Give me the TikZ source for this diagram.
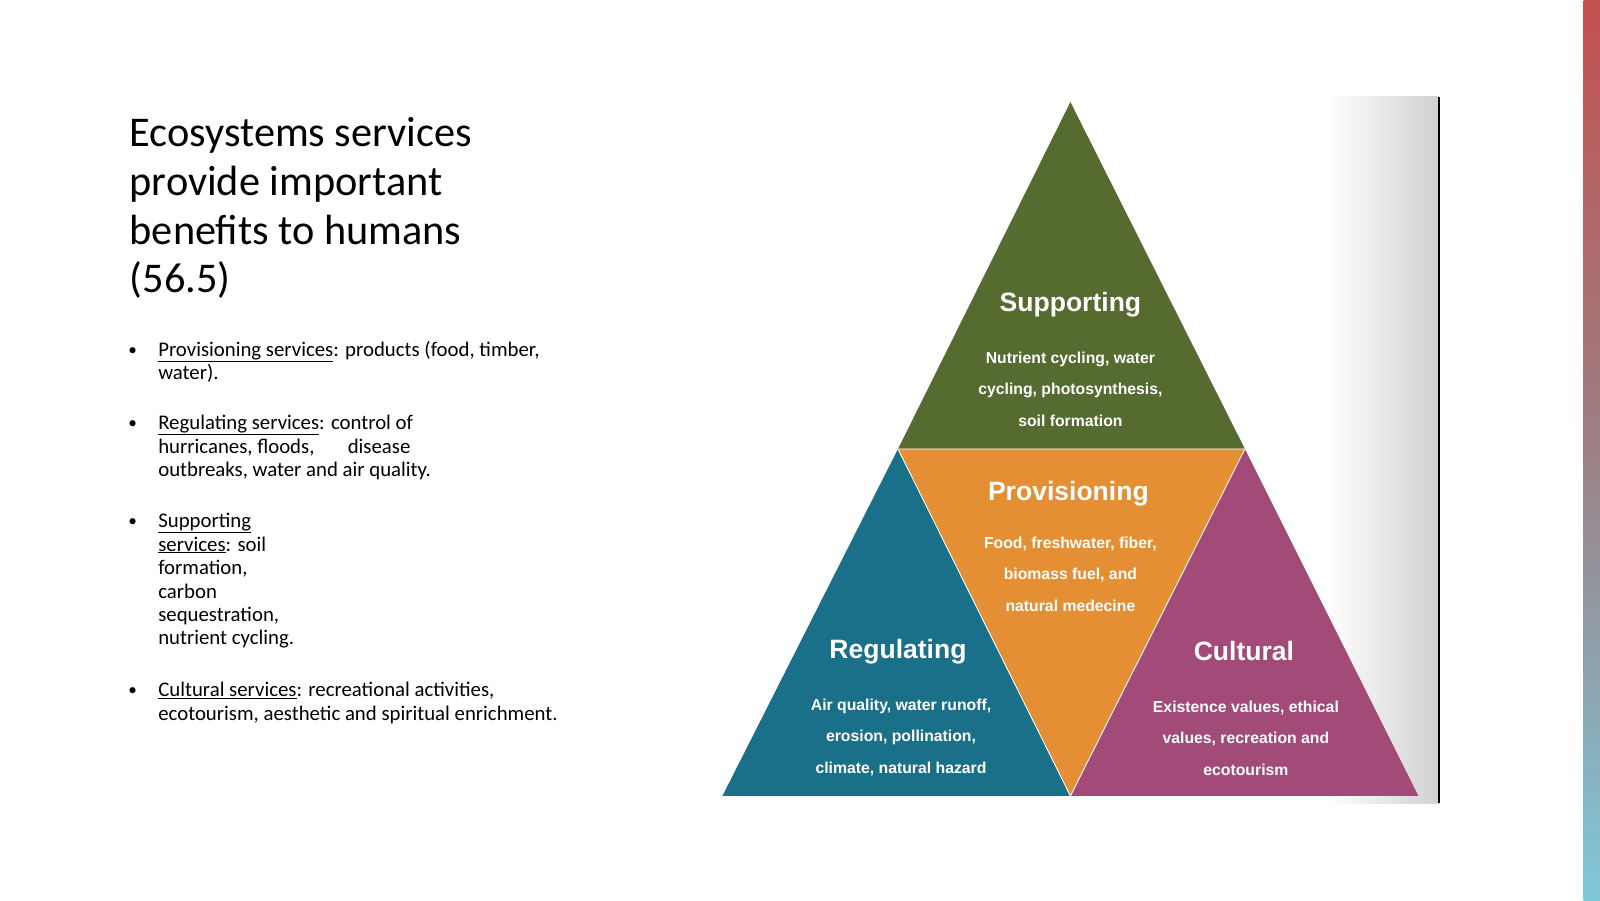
\documentclass[tikz,border=0pt]{standalone}
\usepackage{fontspec}
\setmainfont{Carlito}
\newfontfamily\tri{Liberation Sans}
\begin{document}
\begin{tikzpicture}[x=0.05cm,y=-0.05cm,
  ttl/.style={font=\fontsize{59}{68}\selectfont, anchor=base west, align=left, inner sep=0},
  bul/.style={font=\fontsize{29}{32.7}\selectfont, anchor=base west, align=left, inner sep=0},
  dot/.style={font=\fontsize{24}{26}\selectfont, anchor=base, inner sep=0},
  head/.style={font=\tri\bfseries\fontsize{37}{40}\selectfont, text=white, anchor=base, inner sep=0},
  sub/.style={font=\tri\bfseries\fontsize{22}{44}\selectfont, text=white, anchor=base, align=center, inner sep=0},
  tri/.style={draw=white, line width=1.2pt, line join=round}]
\definecolor{colgreen}{HTML}{566B30}
\definecolor{colorange}{HTML}{E58F35}
\definecolor{colteal}{HTML}{1B7089}
\definecolor{colmag}{HTML}{A34B78}
\definecolor{barred}{HTML}{C4504F}
\definecolor{barblue}{HTML}{7FC8DA}
\useasboundingbox (0,0) rectangle (1568,882);
\fill[white] (0,0) rectangle (1568,882);
% side bar
\shade[top color=barred, bottom color=barblue, middle color=barblue!40!barred!70!gray] (1552,0) rectangle (1568,882);
% image frame
\fill[white] (692,95) rectangle (1410,787);
\shade[left color=white, right color=black!18] (1300,95) rectangle (1410,787);
\draw[black, line width=2.5pt] (1410,95) -- (1410,787);
% triangles
\coordinate (A) at (1049,100);
\coordinate (L) at (880,440);
\coordinate (R) at (1220,440);
\coordinate (BL) at (708,780);
\coordinate (BM) at (1049,780);
\coordinate (BR) at (1390,780);
\fill[colgreen] (A) -- (R) -- (L) -- cycle;
\fill[colorange] (L) -- (R) -- (BM) -- cycle;
\fill[colteal] (L) -- (BM) -- (BL) -- cycle;
\fill[colmag] (R) -- (BR) -- (BM) -- cycle;
\draw[tri] (L) -- (R) -- (BM) -- cycle;
% triangle texts (anchored at last baseline)
\node[head] (hs) at (1049,305) {Supporting};
\node[sub] (ss) at (1049,418) {Nutrient cycling, water\\cycling, photosynthesis,\\soil formation};
\node[head] (hp) at (1047,490) {Provisioning};
\node[sub] (sp) at (1049,599) {Food, freshwater, fiber,\\biomass fuel, and\\natural medecine};
\node[head] (hr) at (880,645) {Regulating};
\node[sub] (sr) at (883,758) {Air quality, water runoff,\\erosion, pollination,\\climate, natural hazard};
\node[head] (hc) at (1219,647) {Cultural};
\node[sub] (sc) at (1221,760) {Existence values, ethical\\values, recreation and\\ecotourism};
% left text
\node[ttl] (t) at (127,287) {Ecosystems services\\provide important\\benefits to humans\\(56.5)};
\node[dot] (d1) at (130,348) {•};
\node[bul] (b1) at (155,372) {\underline{Provisioning services}: products (food, timber,\\water).};
\node[dot] (d2) at (130,420) {•};
\node[bul] (b2) at (155,467) {\underline{Regulating services}: control of\\hurricanes, floods,\hspace{1.6em}disease\\outbreaks, water and air quality.};
\node[dot] (d3) at (130,516) {•};
\node[bul] (b3) at (155,632) {\underline{Supporting}\\\underline{services}: soil\\formation,\\carbon\\sequestration,\\nutrient cycling.};
\node[dot] (d4) at (130,682) {•};
\node[bul] (b4) at (155,706) {\underline{Cultural services}: recreational activities,\\ecotourism, aesthetic and spiritual enrichment.};
\end{tikzpicture}
\end{document}
